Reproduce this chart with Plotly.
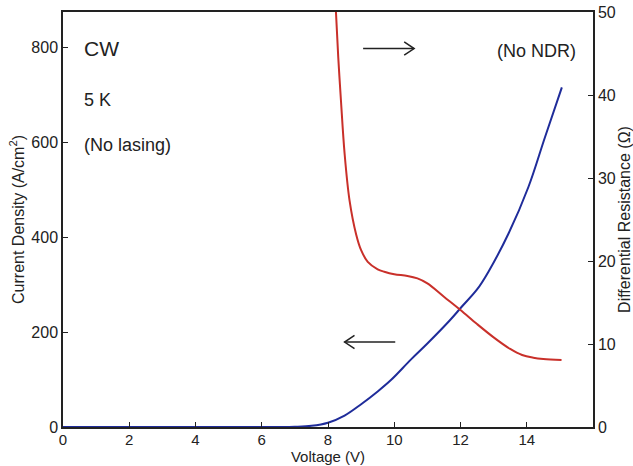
import plotly.graph_objects as go

# Current density vs. voltage (left axis)
voltage_j = [0, 1, 2, 3, 4, 5, 6, 6.5, 7.0, 7.5, 8.0, 8.5, 9.0, 9.5, 9.9, 10.5,
             11.0, 11.68, 12.03, 12.5, 12.84, 13.45, 14.05, 14.55, 15.06]
current_density = [0, 0, 0, 0, 0, 0, 0, 0, 0.5, 2.5, 9, 24, 48, 75, 99, 142,
                   176, 225, 253, 290, 327, 408, 506, 611, 716]

# Differential resistance vs. voltage (right axis)
voltage_r = [8.18, 8.24, 8.31, 8.39, 8.5, 8.65, 8.85, 9.0, 9.2, 9.5, 9.7, 10.0,
             10.4, 10.7, 11.0, 11.5, 12.0, 12.5, 13.0, 13.5, 13.86, 14.2,
             14.5, 15.05]
resistance = [56, 50, 44.5, 39.4, 33, 27.3, 23.2, 21.3, 19.9, 19.0, 18.7, 18.4,
              18.2, 17.9, 17.3, 15.7, 14.1, 12.4, 10.8, 9.4, 8.67, 8.35,
              8.2, 8.07]

x_ticks = [0, 2, 4, 6, 8, 10, 12, 14]
j_ticks = [0, 200, 400, 600, 800]
r_ticks = [0, 10, 20, 30, 40, 50]

font = "Liberation Sans, Arial, sans-serif"
black = "#222222"

fig = go.Figure()
fig.add_trace(go.Scatter(x=voltage_j, y=current_density, mode="lines",
                         line=dict(color="#1f2c9a", width=2, shape="spline"),
                         yaxis="y", showlegend=False))
fig.add_trace(go.Scatter(x=voltage_r, y=resistance, mode="lines",
                         line=dict(color="#c9302a", width=2, shape="spline"),
                         yaxis="y2", showlegend=False))

axis_common = dict(showgrid=False, zeroline=False, showline=True, automargin=False,
                   linecolor=black, linewidth=1.5, ticks="inside", ticklen=5,
                   tickcolor=black)

fig.update_layout(
    width=633, height=466,
    margin=dict(l=63, r=40, t=12, b=39),
    paper_bgcolor="white", plot_bgcolor="white",
    font=dict(family=font, color=black),
    xaxis=dict(range=[0, 16], tickvals=x_ticks, mirror=True,
               tickfont=dict(family=font, size=15, color=black), ticklabelstandoff=-2,
               title=dict(text="Voltage (V)", font=dict(size=15), standoff=0),
               **axis_common),
    yaxis=dict(range=[0, 875], tickvals=j_ticks,
               tickfont=dict(family=font, size=16, color=black),
               title=dict(text="Current Density (A/cm<sup>2</sup>)",
                          font=dict(size=16), standoff=3),
               **axis_common),
    yaxis2=dict(range=[0, 50], tickvals=r_ticks, overlaying="y", side="right",
                tickfont=dict(family=font, size=16, color=black),
                title=dict(text="Differential Resistance (Ω)",
                           font=dict(size=16), standoff=0),
                **axis_common),
)

# Text labels inside the plot
labels = [
    dict(x=0.58, y=798, text="CW", size=21, xanchor="left"),
    dict(x=0.58, y=689, text="5 K", size=18, xanchor="left"),
    dict(x=0.58, y=594, text="(No lasing)", size=18, xanchor="left"),
    dict(x=15.55, y=793, text="(No NDR)", size=18, xanchor="right"),
]
for lb in labels:
    fig.add_annotation(x=lb["x"], y=lb["y"], xref="x", yref="y",
                       text=lb["text"], showarrow=False, xanchor=lb["xanchor"],
                       yanchor="middle", font=dict(family=font, size=lb["size"], color=black))

# Direction arrows pointing at each curve's axis (open chevron heads)
def open_arrow(x0, x1, y, head=0.3, half=14):
    d = 1 if x1 > x0 else -1
    fig.add_shape(type="line", x0=x0, x1=x1, y0=y, y1=y, xref="x", yref="y",
                  line=dict(color=black, width=1.5))
    fig.add_shape(type="path", xref="x", yref="y",
                  path=f"M {x1 - d*head},{y + half} L {x1},{y} L {x1 - d*head},{y - half}",
                  line=dict(color=black, width=1.5))

open_arrow(9.06, 10.6, 798)
open_arrow(10.03, 8.5, 179)

fig.write_html("out.html")
